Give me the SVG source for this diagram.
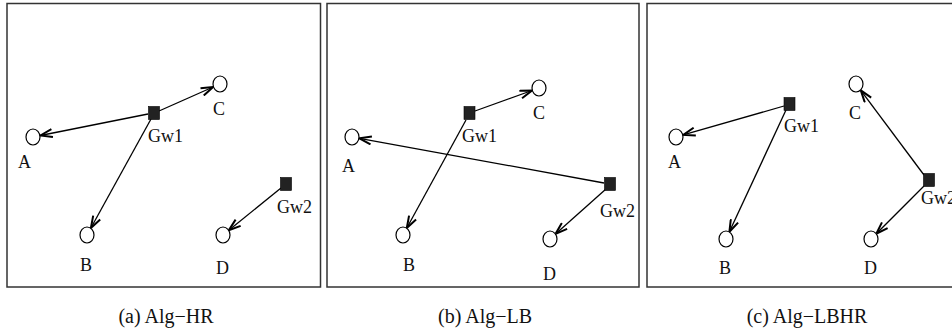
<svg xmlns="http://www.w3.org/2000/svg" width="952" height="336" viewBox="0 0 952 336">
<defs>
<style>
.frame{fill:none;stroke:#333;stroke-width:1.5}
.node{fill:#fff;stroke:#000;stroke-width:1.2}
.gw{fill:#222;stroke:#000;stroke-width:0.6}
.lbl{font-family:"Liberation Serif","Times New Roman",serif;font-size:18px;fill:#111}
.cap{font-family:"Liberation Serif","Times New Roman",serif;font-size:20px;fill:#111}
.edge{stroke:#000;stroke-width:1.3;fill:none;marker-end:url(#arr)}
</style>
<marker id="arr" viewBox="0 0 14 10" refX="13" refY="5" markerWidth="14" markerHeight="10" markerUnits="userSpaceOnUse" orient="auto">
<path d="M1,1 L13,5 L1,9" fill="none" stroke="#000" stroke-width="2"/>
</marker>
</defs>
<rect width="952" height="336" fill="#fff"/>
<g id="panels">
<rect class="frame" x="7" y="3.5" width="313.5" height="283.5"/>
<rect class="frame" x="327" y="3.5" width="312" height="283.5"/>
<rect class="frame" x="647" y="3.5" width="320" height="283.5"/>
</g>
<g id="connectors">
<line class="edge" x1="148" y1="114" x2="40.4" y2="135.5"/>
<line class="edge" x1="159" y1="111" x2="213.1" y2="87"/>
<line class="edge" x1="151" y1="119" x2="90.9" y2="228"/>
<line class="edge" x1="281" y1="188" x2="228.8" y2="230.3"/>
<line class="edge" x1="475" y1="111" x2="532" y2="90.5"/>
<line class="edge" x1="466" y1="120" x2="406.8" y2="228"/>
<line class="edge" x1="604" y1="183" x2="359.4" y2="138.3"/>
<line class="edge" x1="606" y1="189" x2="555.5" y2="233.9"/>
<line class="edge" x1="784" y1="106" x2="683.2" y2="134.9"/>
<line class="edge" x1="786" y1="110" x2="729.4" y2="231.8"/>
<line class="edge" x1="924" y1="175" x2="860.8" y2="90.4"/>
<line class="edge" x1="924" y1="186" x2="876.3" y2="233.7"/>
</g>
<g id="a-A"><ellipse class="node" cx="33" cy="137" rx="7" ry="8"/><text class="lbl" x="18" y="168">A</text></g>
<g id="a-B"><ellipse class="node" cx="87" cy="235" rx="7" ry="8"/><text class="lbl" x="80" y="271">B</text></g>
<g id="a-C"><ellipse class="node" cx="220" cy="84" rx="7" ry="8"/><text class="lbl" x="213" y="115">C</text></g>
<g id="a-D"><ellipse class="node" cx="223" cy="235" rx="7" ry="8"/><text class="lbl" x="216" y="274">D</text></g>
<g id="a-Gw1"><rect class="gw" x="148.5" y="106.5" width="11" height="13"/><text class="lbl" x="148" y="142">Gw1</text></g>
<g id="a-Gw2"><rect class="gw" x="280.5" y="177.5" width="11" height="13"/><text class="lbl" x="277" y="213">Gw2</text></g>
<g id="b-A"><ellipse class="node" cx="352" cy="137" rx="7" ry="8"/><text class="lbl" x="342" y="172">A</text></g>
<g id="b-B"><ellipse class="node" cx="403" cy="235" rx="7" ry="8"/><text class="lbl" x="403" y="271">B</text></g>
<g id="b-C"><ellipse class="node" cx="539" cy="88" rx="7" ry="8"/><text class="lbl" x="533" y="119">C</text></g>
<g id="b-D"><ellipse class="node" cx="550" cy="239" rx="7" ry="8"/><text class="lbl" x="543" y="280">D</text></g>
<g id="b-Gw1"><rect class="gw" x="464" y="106.5" width="11" height="13"/><text class="lbl" x="462" y="142">Gw1</text></g>
<g id="b-Gw2"><rect class="gw" x="604.5" y="177.5" width="11" height="13"/><text class="lbl" x="600" y="217">Gw2</text></g>
<g id="c-A"><ellipse class="node" cx="676" cy="137" rx="7" ry="8"/><text class="lbl" x="668" y="168">A</text></g>
<g id="c-B"><ellipse class="node" cx="726" cy="239" rx="7" ry="8"/><text class="lbl" x="719" y="274">B</text></g>
<g id="c-C"><ellipse class="node" cx="856" cy="84" rx="7" ry="8"/><text class="lbl" x="849" y="119">C</text></g>
<g id="c-D"><ellipse class="node" cx="871" cy="239" rx="7" ry="8"/><text class="lbl" x="864" y="274">D</text></g>
<g id="c-Gw1"><rect class="gw" x="784" y="97.5" width="11" height="13"/><text class="lbl" x="784" y="132">Gw1</text></g>
<g id="c-Gw2"><rect class="gw" x="923.5" y="173.5" width="11" height="13"/><text class="lbl" x="921" y="204">Gw2</text></g>
<g id="captions">
<text class="cap" x="166" y="323" text-anchor="middle">(a) Alg−HR</text>
<text class="cap" x="485" y="323" text-anchor="middle">(b) Alg−LB</text>
<text class="cap" x="807" y="323" text-anchor="middle">(c) Alg−LBHR</text>
</g>
</svg>
